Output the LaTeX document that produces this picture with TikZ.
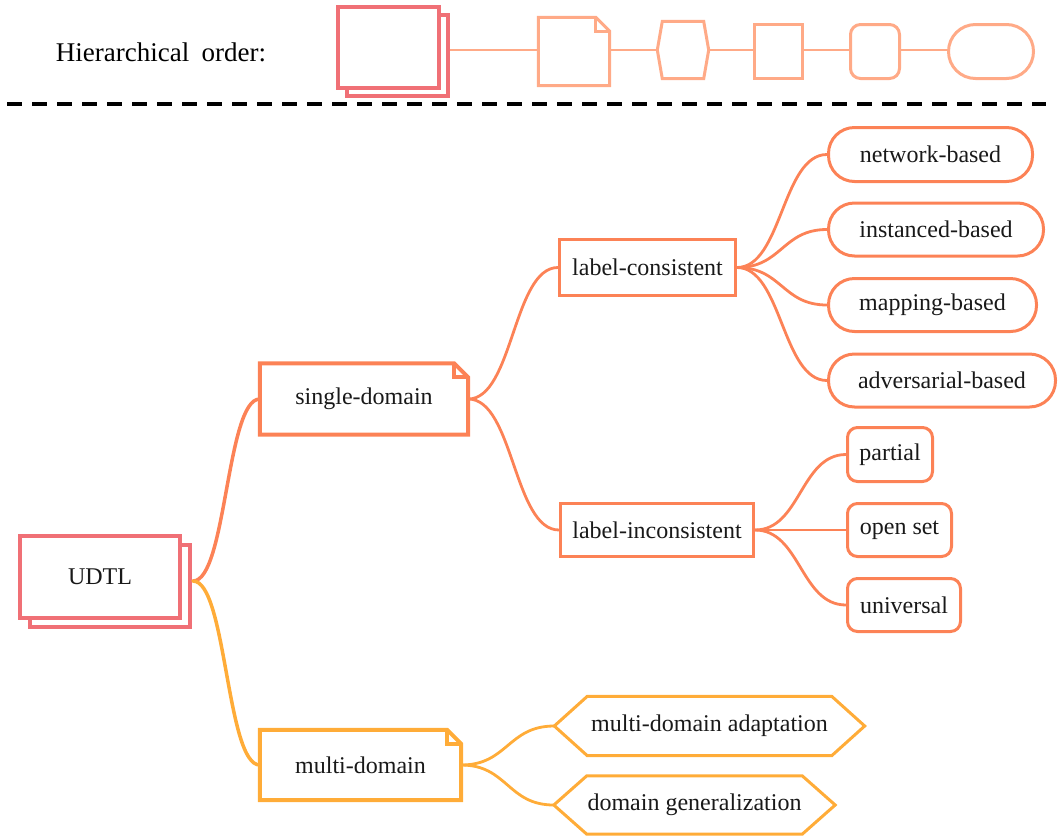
\documentclass[tikz,border=0pt]{standalone}
\usepackage{fontspec}
\setmainfont{Liberation Serif}
\usetikzlibrary{shadows,calc}
\definecolor{cred}{RGB}{240,112,118}
\definecolor{corange}{RGB}{252,130,86}
\definecolor{cyellow}{RGB}{255,172,56}
\definecolor{clight}{RGB}{255,170,135}
\tikzset{
  box/.style={rectangle, inner sep=0pt, font=\fontsize{24}{28}\selectfont, text=black!90},
  redbox/.style={box, draw=cred, line width=4pt, fill=white,
     copy shadow={shadow xshift=10pt, shadow yshift=-9pt}},
  sqbox/.style={box, draw=corange, line width=3pt},
  pillbox/.style={box, draw=corange, line width=3pt, rounded corners=10pt},
  stadbox/.style={box, draw=corange, line width=3pt, rounded corners=26pt},
  ghost/.style={box},
  conn/.style={line width=2.8pt, line cap=round},
  lconn/.style={draw=clight, line width=2pt},
}
\newcommand{\dogear}[3]{%
  \draw[#2, line width=#3] (#1.south west) -- (#1.north west) -- ([xshift=-14pt]#1.north east)
     -- ([yshift=-14pt]#1.north east) -- (#1.south east) -- cycle;
  \draw[#2, line width=#3] ([xshift=-14pt]#1.north east) |- ([yshift=-14pt]#1.north east);}
\newcommand{\hexshape}[4]{%
  \draw[#2, line width=#4] (#1.west) -- ([xshift=#3]#1.north west) -- ([xshift=-#3]#1.north east)
     -- (#1.east) -- ([xshift=-#3]#1.south east) -- ([xshift=#3]#1.south west) -- cycle;}
\newcommand{\sconn}[3]{%
  \draw[conn, #3] let \p1=(#1), \p2=(#2), \n1={(\x2-\x1)/2} in
     (\p1) .. controls +(\n1,0) and +(-\n1,0) .. (\p2);}
\begin{document}
\begin{tikzpicture}[x=1pt, y=-1pt]
\useasboundingbox (0,0) rectangle (1058,839);

% ---------- legend ----------
\node[font=\fontsize{27}{32}\selectfont, inner sep=0pt] (legend) at (161,52) {Hierarchical\hspace{0.45em}order:};
\node[box, draw=cred, line width=4pt, fill=white, minimum width=101pt, minimum height=81pt,
      copy shadow={shadow xshift=9pt, shadow yshift=-8pt}] (l1) at (388.5,47.5) {};
\node[ghost, minimum width=71pt, minimum height=68pt] (l2) at (574,51.5) {};
\dogear{l2}{draw=clight}{3pt}
\node[ghost, minimum width=51pt, minimum height=57pt] (l3) at (683,50) {};
\hexshape{l3}{draw=clight}{5pt}{3pt}
\node[box, draw=clight, line width=3pt, minimum width=48pt, minimum height=54pt] (l4) at (778.5,51.5) {};
\node[box, draw=clight, line width=3pt, rounded corners=10pt, minimum width=49pt, minimum height=54pt] (l5) at (875,51.5) {};
\node[box, draw=clight, line width=3pt, rounded corners=27pt, minimum width=85pt, minimum height=54pt] (l6) at (991,51.5) {};
\coordinate (l1out) at ([xshift=9pt]l1.east |- l3.west);
\draw[lconn] (l1out) -- (l1out -| l2.west);
\draw[lconn] (l2.east |- l3.west) -- (l3.west);
\draw[lconn] (l3.east) -- (l3.east -| l4.west);
\draw[lconn] (l4.east |- l3.west) -- (l3.west -| l5.west);
\draw[lconn] (l5.east |- l3.west) -- (l3.west -| l6.west);

\coordinate (dashA) at (7,103.5);
\coordinate (dashB) at (1046,103.5);
\draw[line width=4pt, dash pattern=on 15pt off 10pt] (dashA) -- (dashB);

% ---------- tree ----------
\node[redbox, minimum width=160pt, minimum height=82pt] (udtl) at (100,577) {UDTL};
\coordinate (udtlout) at ([xshift=11pt, yshift=-4pt]udtl.east);

\node[ghost, minimum width=208pt, minimum height=71pt] (single) at (364,399) {single-domain};
\dogear{single}{draw=corange}{4pt}
\node[ghost, minimum width=201pt, minimum height=70pt] (multi) at (360.5,765) {multi-domain};
\dogear{multi}{draw=cyellow}{4pt}

\node[sqbox, minimum width=176pt, minimum height=56pt] (lc) at (647.5,267.5) {label-consistent};
\node[sqbox, minimum width=193pt, minimum height=53pt] (li) at (657,530) {label-inconsistent};

\node[stadbox, minimum width=204pt, minimum height=54pt] (nb) at (930.5,154.5) {network-based};
\node[stadbox, minimum width=215pt, minimum height=53pt] (ib) at (936,229.5) {instanced-based};
\node[stadbox, minimum width=208pt, minimum height=53pt] (mb) at (932.5,305) {mapping-based};
\node[stadbox, minimum width=227pt, minimum height=53pt] (ab) at (942,380.5) {adversarial-based};

\node[pillbox, minimum width=85pt, minimum height=54pt] (pa) at (890,454.5) {partial};
\node[pillbox, minimum width=104pt, minimum height=53pt] (os) at (899.5,530) {open set};
\node[pillbox, minimum width=113pt, minimum height=53pt] (un) at (904,605) {universal};

\node[ghost, minimum width=310pt, minimum height=59pt] (mda) at (709.5,726) {multi-domain adaptation};
\hexshape{mda}{draw=cyellow}{33pt}{3pt}
\node[ghost, minimum width=281pt, minimum height=58pt] (dg) at (694.5,805) {domain generalization};
\hexshape{dg}{draw=cyellow}{33pt}{3pt}

% connectors
\sconn{udtlout}{single.west}{draw=corange, line width=3.5pt}
\sconn{udtlout}{multi.west}{draw=cyellow, line width=3.5pt}
\sconn{single.east}{lc.west}{draw=corange}
\sconn{single.east}{li.west}{draw=corange}
\sconn{lc.east}{nb.west}{draw=corange}
\sconn{lc.east}{ib.west}{draw=corange}
\sconn{lc.east}{mb.west}{draw=corange}
\sconn{lc.east}{ab.west}{draw=corange}
\sconn{li.east}{pa.west}{draw=corange}
\sconn{li.east}{os.west}{draw=corange}
\sconn{li.east}{un.west}{draw=corange}
\sconn{multi.east}{mda.west}{draw=cyellow}
\sconn{multi.east}{dg.west}{draw=cyellow}
\end{tikzpicture}
\end{document}
